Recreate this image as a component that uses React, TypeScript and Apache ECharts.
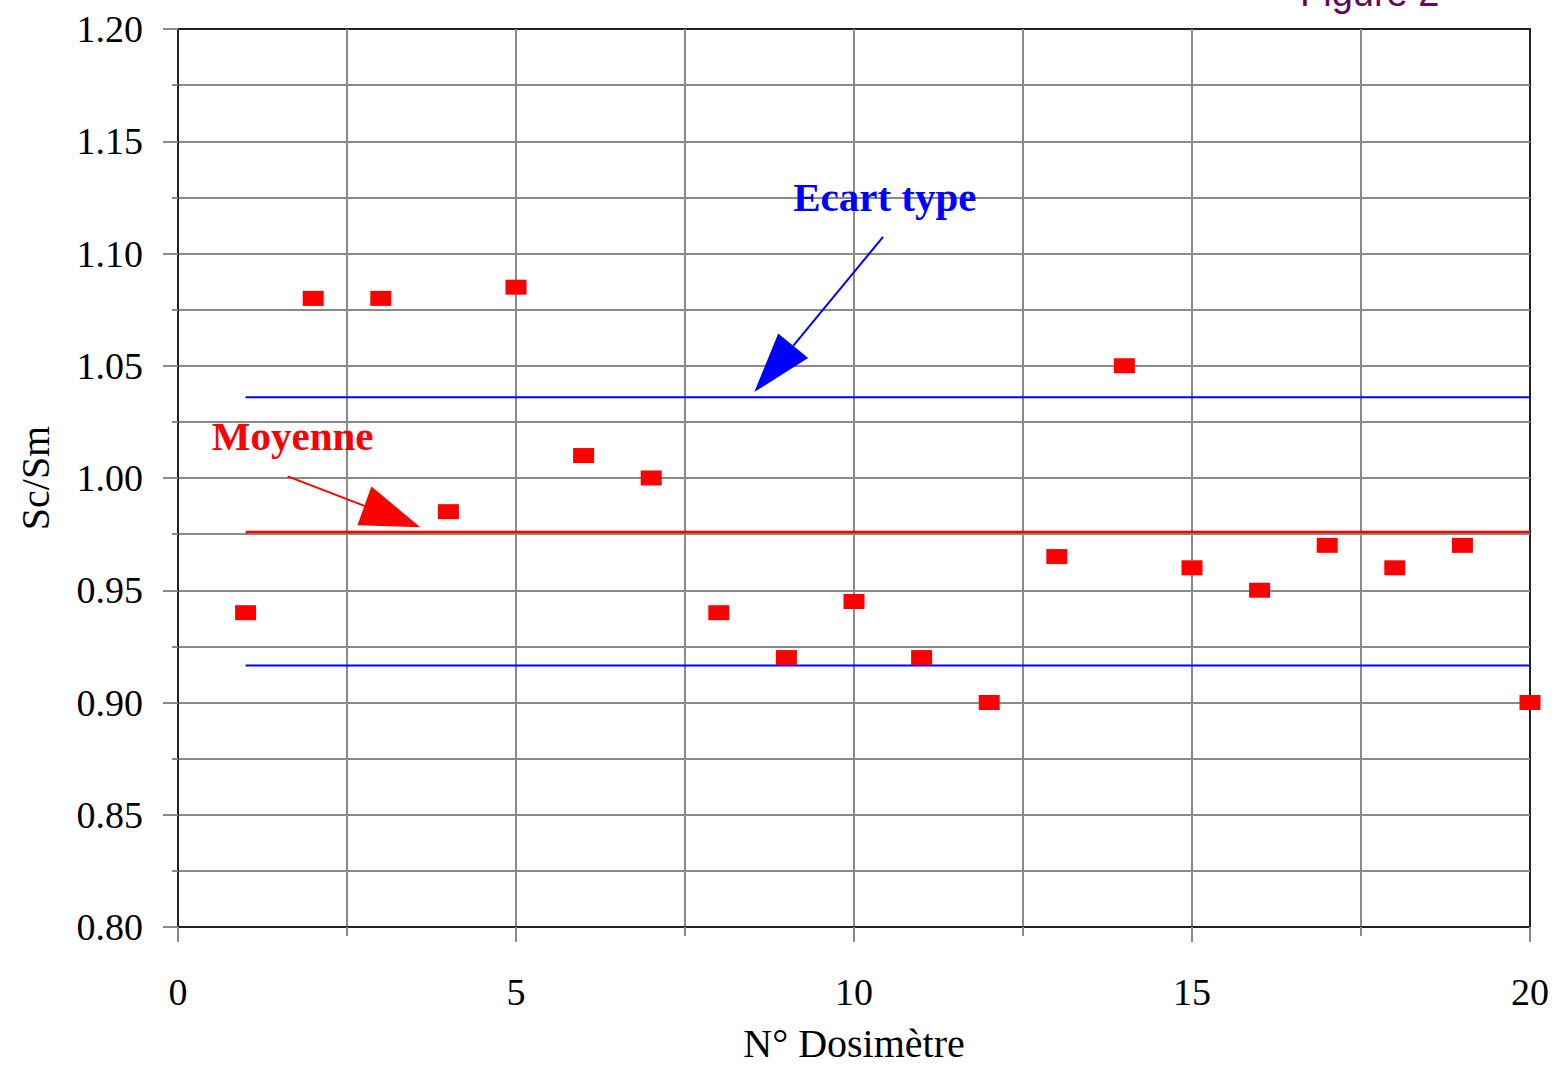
import React, { useEffect, useRef } from "react";
import * as echarts from "echarts";

const dosimeters = [1, 2, 3, 4, 5, 6, 7, 8, 9, 10, 11, 12, 13, 14, 15, 16, 17, 18, 19, 20];
const ratios = [0.94, 1.08, 1.08, 0.985, 1.085, 1.01, 1.0, 0.94, 0.92, 0.945, 0.92, 0.9, 0.965, 1.05, 0.96, 0.95, 0.97, 0.96, 0.97, 0.9];
const lineRange = [1, 20];
const meanValue = 0.976;
const stdUpper = 1.036;
const stdLower = 0.9165;

const xTitle = "N° Dosimètre";
const yTitle = "Sc/Sm";
const figureLabel = "Figure 2";
const meanLabel = "Moyenne";
const stdLabel = "Ecart type";

// annotation anchors in data coordinates
const stdTextPos = [9.1, 1.125];
const stdArrowStart = [10.43, 1.1074];
const stdArrowTip = [8.525, 1.0383];
const stdArrowBase1 = [8.879, 1.0644];
const stdArrowBase2 = [9.322, 1.0534];
const meanTextPos = [0.5, 1.0188];
const meanArrowStart = [1.622, 1.0007];
const meanArrowTip = [3.584, 0.9781];
const meanArrowBase1 = [2.861, 0.9962];
const meanArrowBase2 = [2.655, 0.979];

const SERIF = '"Liberation Serif", "Times New Roman", serif';
const GRIDC = "#8a8a8a";

export default function App() {
  const ref = useRef<HTMLDivElement>(null);
  useEffect(() => {
    document.body.style.margin = "0";
    const chart = echarts.init(ref.current!, null, { renderer: "svg" });
    const option: any = {
      animation: false,
      backgroundColor: "#ffffff",
      grid: {
        left: 178,
        right: 18,
        top: 29,
        bottom: 136,
        show: true,
        borderColor: "#222",
        borderWidth: 2,
      },
      xAxis: {
        type: "value",
        min: 0,
        max: 20,
        interval: 5,
        name: xTitle,
        nameLocation: "middle",
        nameGap: 96,
        nameTextStyle: { fontFamily: SERIF, fontSize: 40, color: "#000" },
        axisLine: { show: true, lineStyle: { color: "#222", width: 2 } },
        axisTick: { show: true, length: 15, lineStyle: { color: GRIDC, width: 2 } },
        minorTick: { show: true, splitNumber: 2, length: 9, lineStyle: { color: GRIDC, width: 2 } },
        axisLabel: { margin: 46, fontFamily: SERIF, fontSize: 38, color: "#000" },
        splitLine: { show: true, showMinLine: false, showMaxLine: false, lineStyle: { color: GRIDC, width: 2 } },
        minorSplitLine: { show: true, lineStyle: { color: GRIDC, width: 2 } },
      },
      yAxis: {
        type: "value",
        min: 0.8,
        max: 1.2,
        interval: 0.05,
        name: yTitle,
        nameLocation: "middle",
        nameGap: 123,
        nameTextStyle: { fontFamily: SERIF, fontSize: 40, color: "#000" },
        axisLine: { show: true, lineStyle: { color: "#222", width: 2 } },
        axisTick: { show: true, length: 15, lineStyle: { color: GRIDC, width: 2 } },
        minorTick: { show: true, splitNumber: 2, length: 6, lineStyle: { color: GRIDC, width: 2 } },
        axisLabel: {
          margin: 35,
          fontFamily: SERIF,
          fontSize: 38,
          color: "#000",
          formatter: (v: number) => v.toFixed(2),
        },
        splitLine: { show: true, showMinLine: false, showMaxLine: false, lineStyle: { color: GRIDC, width: 2 } },
        minorSplitLine: { show: true, lineStyle: { color: GRIDC, width: 2 } },
      },
      series: [
        {
          type: "line",
          data: lineRange.map((x) => [x, stdUpper]),
          symbol: "none",
          lineStyle: { color: "#0000ff", width: 2 },
          z: 3,
        },
        {
          type: "line",
          data: lineRange.map((x) => [x, stdLower]),
          symbol: "none",
          lineStyle: { color: "#0000ff", width: 2 },
          z: 3,
        },
        {
          type: "line",
          data: lineRange.map((x) => [x, meanValue]),
          symbol: "none",
          lineStyle: { color: "#ff0000", width: 2.5 },
          z: 3,
        },
        {
          type: "scatter",
          data: dosimeters.map((d, i) => [d, ratios[i]]),
          symbol: "rect",
          symbolSize: [21, 15],
          itemStyle: { color: "#ff0000", opacity: 1 },
          z: 5,
        },
      ],
    };
    chart.setOption(option);

    const px = (p: number[]) => chart.convertToPixel({ gridIndex: 0 }, p) as number[];
    const arrow = (start: number[], tip: number[], b1: number[], b2: number[], color: string) => {
      const s = px(start);
      const t = px(tip);
      const a = px(b1);
      const b = px(b2);
      const mid = [(a[0] + b[0]) / 2, (a[1] + b[1]) / 2];
      return [
        { type: "polyline", shape: { points: [s, mid] }, style: { stroke: color, lineWidth: 2, fill: null }, z: 10 },
        { type: "polygon", shape: { points: [t, a, b] }, style: { fill: color }, z: 10 },
      ];
    };
    const st = px(stdTextPos);
    const mt = px(meanTextPos);
    chart.setOption({
      graphic: [
        {
          type: "text",
          x: 1300,
          y: -26,
          style: { text: figureLabel, fontFamily: '"Liberation Sans", Arial, sans-serif', fontSize: 38, fill: "#5e0b5e", verticalAlign: "top" },
          z: 10,
        },
        {
          type: "text",
          x: st[0],
          y: st[1],
          style: { text: stdLabel, fontFamily: SERIF, fontSize: 41, fontWeight: "bold", fill: "#0000ff", verticalAlign: "middle" },
          z: 10,
        },
        {
          type: "text",
          x: mt[0],
          y: mt[1],
          style: { text: meanLabel, fontFamily: SERIF, fontSize: 41, fontWeight: "bold", fill: "#ff0000", verticalAlign: "middle" },
          z: 10,
        },
        ...arrow(stdArrowStart, stdArrowTip, stdArrowBase1, stdArrowBase2, "#0000ff"),
        ...arrow(meanArrowStart, meanArrowTip, meanArrowBase1, meanArrowBase2, "#ff0000"),
      ],
    });
    const onResize = () => chart.resize();
    window.addEventListener("resize", onResize);
    return () => {
      window.removeEventListener("resize", onResize);
      chart.dispose();
    };
  }, []);
  return (
    <div
      ref={ref}
      style={{ position: "fixed", left: 0, top: 0, width: "100vw", height: "100vh", background: "#fff" }}
    />
  );
}
